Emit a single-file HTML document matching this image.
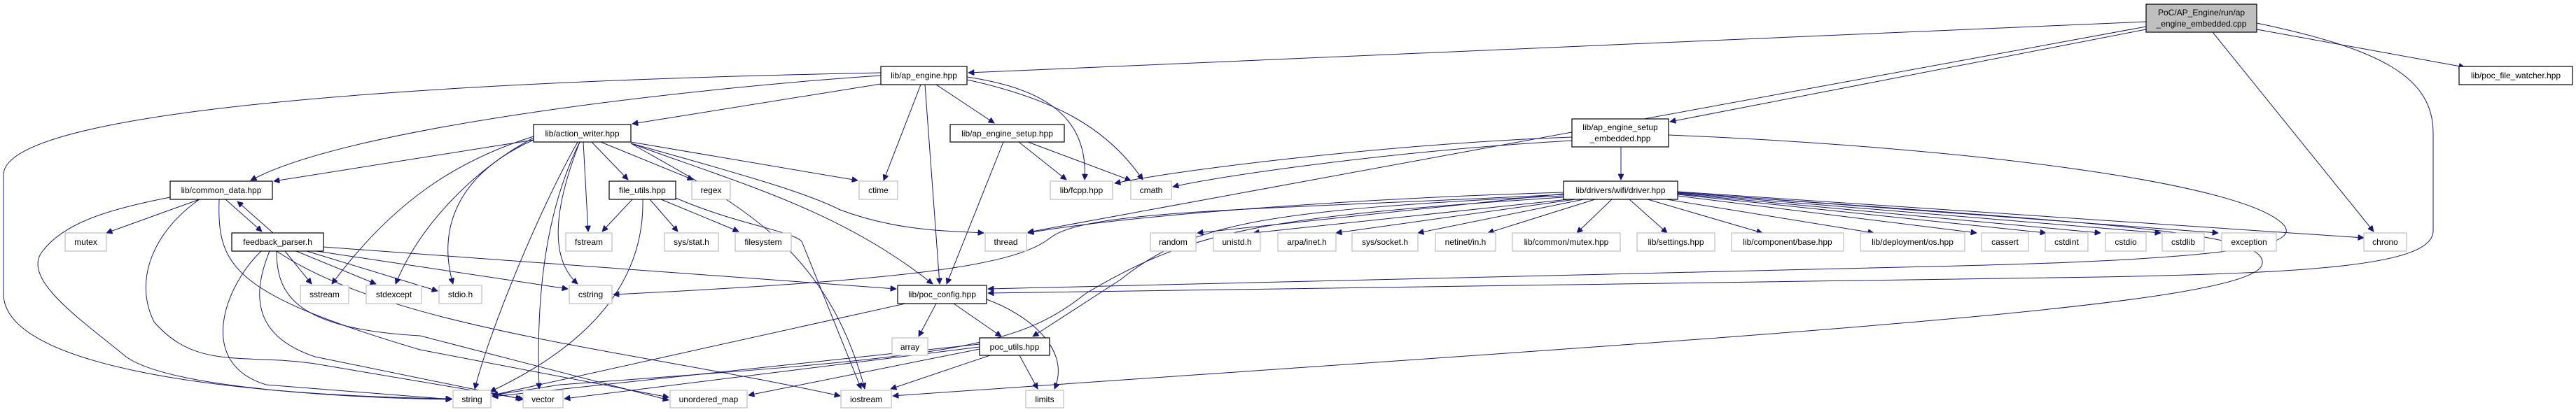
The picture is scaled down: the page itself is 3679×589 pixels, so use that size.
<!DOCTYPE html>
<html><head><meta charset="utf-8"><style>
html,body{margin:0;padding:0;background:#fff;}
svg{display:block;}
text{font-family:"Liberation Sans",Arial,sans-serif;font-size:12px;fill:#000;}
.n{fill:#fff;stroke:#000;stroke-width:1.2;}
.x{fill:#fff;stroke:#bfbfbf;stroke-width:1.2;}
.t{fill:#bfbfbf;stroke:#000;stroke-width:1.2;}
path{fill:none;stroke:#191970;stroke-width:1;}
</style></head><body>
<svg width="3679" height="589" viewBox="0 0 3679 589" xmlns="http://www.w3.org/2000/svg">
<defs><marker id="a" viewBox="0 0 10 10" refX="10" refY="5" markerWidth="10" markerHeight="8" markerUnits="userSpaceOnUse" orient="auto"><path d="M0,0 L10,5 L0,10 z" style="fill:#191970;stroke:#191970"/></marker></defs>
<g marker-end="url(#a)">
<!-- top -->
<path d="M3065,31 L1383,104"/>
<path d="M3065,42 L2385,174"/>
<path d="M3065,38 L1468,332"/>
<path d="M3160,46 L3390,331"/>
<path d="M3223,42 L3520,96"/>
<path d="M3223,33 C3400,70 3475,110 3475,190 L3475,330 C3475,380 3300,390 3000,396 L1411,419"/>
<!-- ap_engine -->
<path d="M1258,104 C700,115 5,150 5,250 L5,420 C5,520 300,565 645,570"/>
<path d="M1258,108 C1000,125 500,180 358,258"/>
<path d="M1258,120 L903,177"/>
<path d="M1315,121 L1262,258"/>
<path d="M1321,121 L1342,406"/>
<path d="M1337,121 L1420,176"/>
<path d="M1381,110 C1480,125 1555,160 1549,257"/>
<path d="M1381,114 C1500,140 1580,180 1632,257"/>
<!-- action_writer -->
<path d="M762,200 L391,259"/>
<path d="M762,195 C650,230 560,290 474,406"/>
<path d="M762,197 C680,240 600,320 565,406"/>
<path d="M762,200 C650,250 625,330 647,406"/>
<path d="M825,203 C770,300 700,470 678,556"/>
<path d="M828,203 C780,300 765,420 770,556"/>
<path d="M828,203 C790,300 785,370 825,406"/>
<path d="M833,203 L840,331"/>
<path d="M845,203 L897,257"/>
<path d="M858,203 L990,257"/>
<path d="M901,203 L1225,258"/>
<path d="M901,205 C1100,260 1160,280 1200,300 C1280,330 1350,330 1405,333"/>
<path d="M901,205 C1050,260 1200,300 1332,406"/>
<path d="M901,205 C1050,290 1180,350 1235,556"/>
<!-- common_data -->
<path d="M285,285 L152,333"/>
<path d="M322,285 L374,331"/>
<path d="M243,282 C150,300 90,320 60,360 C30,400 120,460 180,510 C250,560 550,570 645,571"/>
<path d="M285,285 C220,330 190,400 220,460 C280,530 350,505 450,520 L745,570"/>
<path d="M313,285 C310,380 330,420 600,500 L955,568"/>
<!-- feedback_parser -->
<path d="M390,333 L339,288"/>
<path d="M407,359 L445,406"/>
<path d="M423,359 L537,406"/>
<path d="M438,359 L625,416"/>
<path d="M452,359 L811,413"/>
<path d="M462,353 L1280,413"/>
<path d="M373,359 C320,410 280,520 380,550 L645,571"/>
<path d="M385,359 C360,420 360,480 450,510 L748,571"/>
<path d="M395,359 C395,420 420,470 600,480 L955,572"/>
<path d="M395,359 C560,470 900,500 1200,566"/>
<!-- file_utils -->
<path d="M903,285 L860,331"/>
<path d="M928,285 L968,331"/>
<path d="M944,285 L1055,331"/>
<path d="M918,285 C920,380 870,480 700,560"/>
<path d="M965,283 C1050,320 1130,330 1145,345 L1230,556"/>
<!-- ap_engine_setup -->
<path d="M1455,203 L1523,257"/>
<path d="M1468,203 L1615,258"/>
<path d="M1433,203 L1352,406"/>
<!-- embedded -->
<path d="M2315,210 L2315,257"/>
<path d="M2245,196 C2000,205 1700,240 1592,262"/>
<path d="M2245,201 C2000,215 1750,250 1675,267"/>
<path d="M2383,193 C2800,210 3200,260 3260,320 C3290,350 3200,370 2800,380 L1411,413"/>
<!-- driver -->
<path d="M2233,275 C1900,285 1600,310 1468,333"/>
<path d="M2233,277 L1710,333"/>
<path d="M2240,285 L1790,333"/>
<path d="M2250,285 L1908,333"/>
<path d="M2262,285 L2025,333"/>
<path d="M2278,285 L2125,333"/>
<path d="M2302,285 L2252,333"/>
<path d="M2327,285 L2381,333"/>
<path d="M2353,285 L2517,333"/>
<path d="M2380,285 L2676,333"/>
<path d="M2396,280 L2823,333"/>
<path d="M2396,278 L2922,333"/>
<path d="M2396,277 L3000,333"/>
<path d="M2396,276 L3086,333"/>
<path d="M2396,275 L3168,333"/>
<path d="M2396,274 L3376,340"/>
<path d="M2233,278 C1800,300 1550,300 1500,340 C1450,380 1300,400 876,421"/>
<path d="M2233,280 C1800,300 1700,320 1600,400 L1475,481"/>
<path d="M2233,282 C1800,310 1700,330 1550,420 C1450,500 1350,510 800,550 L703,565"/>
<path d="M2396,275 C3000,320 3250,330 3230,380 C3200,440 2500,480 1275,566"/>
<!-- poc_config -->
<path d="M1337,434 L1312,481"/>
<path d="M1362,434 L1430,481"/>
<path d="M1409,428 C1470,450 1530,500 1506,556"/>
<path d="M1293,434 L703,565"/>
<!-- poc_utils -->
<path d="M1456,508 L1482,556"/>
<path d="M1414,508 L1272,556"/>
<path d="M1399,499 L1069,565"/>
<path d="M1399,496 L806,570"/>
<path d="M1399,492 L703,567"/>
</g>
<!-- nodes -->
<g>
<rect class="t" x="3065" y="6" width="158" height="40"/><text x="3144" y="22" text-anchor="middle">PoC/AP_Engine/run/ap</text><text x="3144" y="38" text-anchor="middle">_engine_embedded.cpp</text>
<rect class="n" x="1258" y="95" width="123" height="26"/><text x="1319.5" y="112" text-anchor="middle">lib/ap_engine.hpp</text>
<rect class="n" x="3512" y="95" width="162" height="26"/><text x="3593" y="112" text-anchor="middle">lib/poc_file_watcher.hpp</text>
<rect class="n" x="762" y="178" width="139" height="25"/><text x="831.5" y="195" text-anchor="middle">lib/action_writer.hpp</text>
<rect class="n" x="1357" y="178" width="163" height="25"/><text x="1438.5" y="195" text-anchor="middle">lib/ap_engine_setup.hpp</text>
<rect class="n" x="2245" y="170" width="138" height="40"/><text x="2314" y="186" text-anchor="middle">lib/ap_engine_setup</text><text x="2314" y="202" text-anchor="middle">_embedded.hpp</text>
<rect class="n" x="243" y="259" width="146" height="26"/><text x="316" y="276" text-anchor="middle">lib/common_data.hpp</text>
<rect class="n" x="870" y="259" width="95" height="26"/><text x="917.5" y="276" text-anchor="middle">file_utils.hpp</text>
<rect class="x" x="988" y="259" width="55" height="26"/><text x="1015.5" y="276" text-anchor="middle">regex</text>
<rect class="x" x="1227" y="259" width="55" height="26"/><text x="1254.5" y="276" text-anchor="middle">ctime</text>
<rect class="x" x="1500" y="259" width="89" height="26"/><text x="1544.5" y="276" text-anchor="middle">lib/fcpp.hpp</text>
<rect class="x" x="1615" y="259" width="58" height="26"/><text x="1644" y="276" text-anchor="middle">cmath</text>
<rect class="n" x="2233" y="259" width="163" height="26"/><text x="2314.5" y="276" text-anchor="middle">lib/drivers/wifi/driver.hpp</text>
<rect class="x" x="93" y="333" width="59" height="26"/><text x="122.5" y="350" text-anchor="middle">mutex</text>
<rect class="n" x="331" y="333" width="131" height="26"/><text x="396.5" y="350" text-anchor="middle">feedback_parser.h</text>
<rect class="x" x="808" y="333" width="66" height="26"/><text x="841" y="350" text-anchor="middle">fstream</text>
<rect class="x" x="949" y="333" width="77" height="26"/><text x="987.5" y="350" text-anchor="middle">sys/stat.h</text>
<rect class="x" x="1050" y="333" width="80" height="26"/><text x="1090" y="350" text-anchor="middle">filesystem</text>
<rect class="x" x="1407" y="333" width="59" height="26"/><text x="1436.5" y="350" text-anchor="middle">thread</text>
<rect class="x" x="1643" y="333" width="65" height="26"/><text x="1675.5" y="350" text-anchor="middle">random</text>
<rect class="x" x="1733" y="333" width="67" height="26"/><text x="1766.5" y="350" text-anchor="middle">unistd.h</text>
<rect class="x" x="1825" y="333" width="83" height="26"/><text x="1866.5" y="350" text-anchor="middle">arpa/inet.h</text>
<rect class="x" x="1931" y="333" width="94" height="26"/><text x="1978" y="350" text-anchor="middle">sys/socket.h</text>
<rect class="x" x="2050" y="333" width="86" height="26"/><text x="2093" y="350" text-anchor="middle">netinet/in.h</text>
<rect class="x" x="2160" y="333" width="154" height="26"/><text x="2237" y="350" text-anchor="middle">lib/common/mutex.hpp</text>
<rect class="x" x="2338" y="333" width="111" height="26"/><text x="2393.5" y="350" text-anchor="middle">lib/settings.hpp</text>
<rect class="x" x="2473" y="333" width="160" height="26"/><text x="2553" y="350" text-anchor="middle">lib/component/base.hpp</text>
<rect class="x" x="2657" y="333" width="149" height="26"/><text x="2731.5" y="350" text-anchor="middle">lib/deployment/os.hpp</text>
<rect class="x" x="2830" y="333" width="67" height="26"/><text x="2863.5" y="350" text-anchor="middle">cassert</text>
<rect class="x" x="2921" y="333" width="61" height="26"/><text x="2951.5" y="350" text-anchor="middle">cstdint</text>
<rect class="x" x="3007" y="333" width="58" height="26"/><text x="3036" y="350" text-anchor="middle">cstdio</text>
<rect class="x" x="3088" y="333" width="60" height="26"/><text x="3118" y="350" text-anchor="middle">cstdlib</text>
<rect class="x" x="3173" y="333" width="78" height="26"/><text x="3212" y="350" text-anchor="middle">exception</text>
<rect class="x" x="3376" y="333" width="61" height="26"/><text x="3406.5" y="350" text-anchor="middle">chrono</text>
<rect class="x" x="429" y="408" width="69" height="26"/><text x="463.5" y="425" text-anchor="middle">sstream</text>
<rect class="x" x="523" y="408" width="79" height="26"/><text x="562.5" y="425" text-anchor="middle">stdexcept</text>
<rect class="x" x="627" y="408" width="61" height="26"/><text x="657.5" y="425" text-anchor="middle">stdio.h</text>
<rect class="x" x="813" y="408" width="61" height="26"/><text x="843.5" y="425" text-anchor="middle">cstring</text>
<rect class="n" x="1282" y="408" width="127" height="26"/><text x="1345.5" y="425" text-anchor="middle">lib/poc_config.hpp</text>
<rect class="x" x="1274" y="483" width="51" height="25"/><text x="1299.5" y="500" text-anchor="middle">array</text>
<rect class="n" x="1399" y="483" width="100" height="25"/><text x="1449" y="500" text-anchor="middle">poc_utils.hpp</text>
<rect class="x" x="647" y="558" width="54" height="25"/><text x="674" y="575" text-anchor="middle">string</text>
<rect class="x" x="747" y="558" width="57" height="25"/><text x="775.5" y="575" text-anchor="middle">vector</text>
<rect class="x" x="957" y="558" width="110" height="25"/><text x="1012" y="575" text-anchor="middle">unordered_map</text>
<rect class="x" x="1201" y="558" width="72" height="25"/><text x="1237" y="575" text-anchor="middle">iostream</text>
<rect class="x" x="1465" y="558" width="54" height="25"/><text x="1492" y="575" text-anchor="middle">limits</text>
</g>
</svg>
</body></html>
